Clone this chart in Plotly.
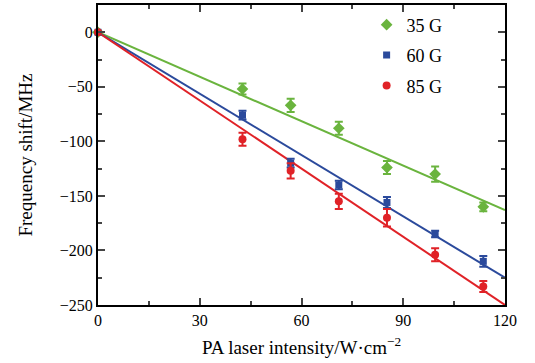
import plotly.graph_objects as go

x_vals = [0, 42.6, 56.8, 71.0, 85.2, 99.4, 113.6]
y_35 = [0, -52, -67, -88, -124, -130, -160]
e_35 = [0, 5, 6, 6, 6, 7, 4]
y_60 = [0, -76, -120, -140, -156, -185, -210]
e_60 = [0, 4, 4, 4, 5, 3, 5]
y_85 = [0, -98, -127, -155, -170, -204, -233]
e_85 = [0, 6, 7, 7, 8, 6, 5]
fit_x = [0, 120]
fit_35 = [0, -163]
fit_60 = [0, -225]
fit_85 = [0, -250]

names = ["35 G", "60 G", "85 G"]
colors = ["#6ab43e", "#2b4a9c", "#e02227"]
symbols = ["diamond", "square", "circle"]
sizes = [9, 7, 8]

fig = go.Figure()
fits = [fit_35, fit_60, fit_85]
for fit, c in zip(fits, colors):
    fig.add_trace(go.Scatter(x=fit_x, y=fit, mode="lines", line=dict(color=c, width=2),
                             showlegend=False, hoverinfo="skip", cliponaxis=False))
for ys, es, name, c, s, sz in zip([y_35, y_60, y_85], [e_35, e_60, e_85], names, colors, symbols, sizes):
    fig.add_trace(go.Scatter(x=x_vals, y=ys, mode="markers", name=name, legendgroup=name,
                             marker=dict(color=c, symbol=s, size=sz),
                             error_y=dict(type="data", array=es, color=c, thickness=2, width=4),
                             cliponaxis=False))

font = "Liberation Serif, DejaVu Serif, serif"
fig.update_layout(
    width=535, height=363,
    margin=dict(l=98, r=30, t=3, b=58),
    plot_bgcolor="white", paper_bgcolor="white",
    font=dict(family=font, size=16, color="black"),
    legend=dict(x=0.66, y=0.995, xanchor="left", yanchor="top", bgcolor="rgba(0,0,0,0)",
                font=dict(size=18), tracegroupgap=4, itemwidth=30),
    xaxis=dict(range=[0, 120], tickvals=[0, 30, 60, 90, 120], ticks="inside", ticklen=7,
               tickwidth=2, showline=True, linewidth=2, linecolor="black", mirror="ticks",
               showgrid=False, zeroline=False,
               minor=dict(tickvals=[15, 45, 75, 105], ticks="inside", ticklen=4, tickwidth=2),
               title=dict(text="PA laser intensity/W·cm<sup>−2</sup>", standoff=12)),
    yaxis=dict(range=[-250, 25], tickvals=[0, -50, -100, -150, -200, -250],
               ticktext=["0", "−50", "−100", "−150", "−200", "−250"],
               ticks="inside", ticklen=7, tickwidth=2, showline=True, linewidth=2,
               linecolor="black", mirror="ticks", showgrid=False, zeroline=False,
               minor=dict(tickvals=[-25, -75, -125, -175, -225], ticks="inside", ticklen=4, tickwidth=2),
               title=dict(text="Frequency shift/MHz", standoff=22)),
)
fig.write_html("out.html", config={"displayModeBar": False},
               post_script="document.body.style.margin='0px';")
